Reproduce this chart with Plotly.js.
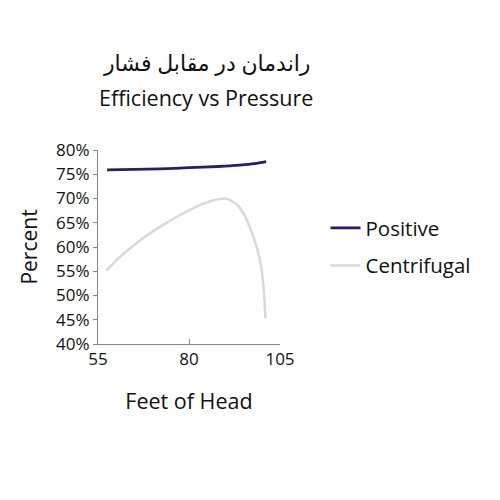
<!DOCTYPE html>
<html>
<head>
<meta charset="utf-8">
<script src="https://cdn.plot.ly/plotly-3.0.1.min.js"></script>
<style>
  html, body { margin: 0; padding: 0; background: #fff; }
  #chart { width: 500px; height: 500px; }
</style>
</head>
<body>
<div id="chart"></div>
<script>
const positiveX = [57.5, 65, 72, 80, 88, 94, 98, 101.2];
const positiveY = [75.9, 76.0, 76.1, 76.35, 76.6, 76.9, 77.2, 77.6];

const centrifugalX = [57.3, 61.1, 66.6, 72.1, 77.6, 83.1, 87.0, 90.0, 92.7, 95.0, 96.8, 98.7, 99.9, 100.5, 101.0];
const centrifugalY = [55.1, 58.0, 61.4, 64.2, 66.6, 68.7, 69.7, 70.0, 69.0, 66.9, 63.9, 59.7, 55.6, 51.5, 45.3];

const xTicks = [55, 80, 105];
const yTicks = [40, 45, 50, 55, 60, 65, 70, 75, 80];

const titleFa = 'راندمان در مقابل فشار';
const titleEn = 'Efficiency vs Pressure';

const font = 'Open Sans, DejaVu Sans, sans-serif';

Plotly.newPlot('chart', [{
  x: positiveX,
  y: positiveY,
  name: 'Positive',
  mode: 'lines',
  line: {color: '#2e1a6b', width: 2.8, shape: 'spline', smoothing: 0.8},
  legendgroup: 'a',
}, {
  x: centrifugalX,
  y: centrifugalY,
  name: 'Centrifugal',
  mode: 'lines',
  line: {color: '#d9d9d9', width: 2.5, shape: 'spline', smoothing: 0.8},
  legendgroup: 'b',
}], {
  width: 500,
  height: 500,
  margin: {l: 98, r: 220, t: 150, b: 156},
  font: {family: font, color: '#111', size: 17},
  annotations: [{
    text: titleFa,
    xref: 'paper', yref: 'paper',
    x: (207 - 98) / 182, y: (344 - 62) / 194,
    xanchor: 'center', yanchor: 'middle',
    showarrow: false,
    font: {size: 22, color: '#111'},
  }, {
    text: titleEn,
    xref: 'paper', yref: 'paper',
    x: (206 - 98) / 182, y: (344 - 97) / 194,
    xanchor: 'center', yanchor: 'middle',
    showarrow: false,
    font: {size: 21.5, color: '#111'},
  }],
  xaxis: {
    range: [55, 105],
    tickvals: xTicks,
    ticktext: xTicks.map(String),
    ticks: 'inside',
    ticklen: 5,
    tickcolor: '#888',
    showline: true,
    linecolor: '#888',
    linewidth: 1,
    showgrid: false,
    zeroline: false,
    tickfont: {size: 17},
    title: {text: 'Feet of Head', font: {size: 21.5}, standoff: 24},
  },
  yaxis: {
    range: [40, 80],
    tickvals: yTicks,
    ticktext: yTicks.map((v) => v + '%'),
    ticks: 'outside',
    ticklen: 4,
    tickcolor: '#888',
    showline: true,
    linecolor: '#888',
    linewidth: 1,
    showgrid: false,
    zeroline: false,
    tickfont: {size: 17},
    title: {text: 'Percent', font: {size: 21}, standoff: 12},
  },
  legend: {
    x: 1.25,
    xanchor: 'left',
    y: 0.5,
    yanchor: 'middle',
    font: {size: 20.5, color: '#111'},
    traceorder: 'grouped',
    tracegroupgap: 8,
  },
  showlegend: true,
  plot_bgcolor: '#fff',
  paper_bgcolor: '#fff',
}, {displayModeBar: false});
</script>
</body>
</html>
